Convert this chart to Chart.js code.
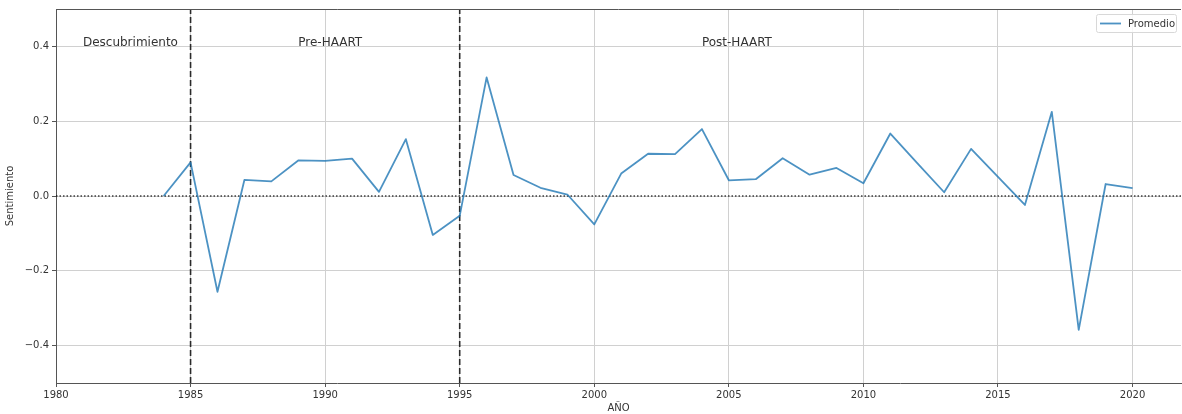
<!DOCTYPE html>
<html>
<head>
<meta charset="utf-8">
<script src="https://cdn.jsdelivr.net/npm/chart.js@4/dist/chart.umd.min.js"></script>
<style>
  html, body { margin: 0; padding: 0; background: #fff; }
  #wrap { width: 1182px; height: 414px; position: relative; }
</style>
</head>
<body>
<div id="wrap"><canvas id="chart"></canvas></div>
<script>
"use strict";

// Data
const years = [1984, 1985, 1986, 1987, 1988, 1989, 1990, 1991, 1992, 1993, 1994, 1995,
    1996, 1997, 1998, 1999, 2000, 2001, 2002, 2003, 2004, 2005, 2006, 2007, 2008,
    2009, 2010, 2011, 2012, 2013, 2014, 2015, 2016, 2017, 2018, 2019, 2020];
const promedio = [0.0, 0.09, -0.256, 0.043, 0.039, 0.095, 0.094, 0.100, 0.011, 0.152, -0.104, -0.053,
    0.317, 0.056, 0.022, 0.004, -0.076, 0.060, 0.113, 0.112, 0.179, 0.042, 0.045, 0.101, 0.057,
    0.075, 0.034, 0.167, 0.088, 0.010, 0.126, 0.051, -0.024, 0.225, -0.358, 0.032, 0.021];
const xTicks = [1980, 1985, 1990, 1995, 2000, 2005, 2010, 2015, 2020];
const yTicks = [-0.4, -0.2, 0.0, 0.2, 0.4];
const periodBreaks = [1985, 1995];
const periodLabels = ['Descubrimiento', 'Pre-HAART', 'Post-HAART'];
const periodLabelX = [1981, 1989, 2004];
const periodLabelY = 0.4;
const xRange = [1980, 2021.8];
const yRange = [-0.5, 0.5];

const FONT = 'DejaVu Sans';
const TEXT = '#333333';
const LINE = 'rgba(31, 119, 180, 0.8)';

document.addEventListener('DOMContentLoaded', () => {
    const ctx = document.getElementById('chart').getContext('2d');

    const datasets = [{
        label: 'Promedio',
        data: years.map((y, i) => ({ x: y, y: promedio[i] })),
        borderColor: LINE,
        borderWidth: 1.8,
        borderJoinStyle: 'round',
        pointRadius: 0,
        tension: 0,
        order: 0
    }];

    // vertical dashed period breaks
    periodBreaks.forEach(b => {
        datasets.push({
            label: '_break',
            data: [{ x: b, y: yRange[0] }, { x: b, y: yRange[1] }],
            borderColor: 'rgba(0, 0, 0, 0.8)',
            borderWidth: 1.6,
            borderDash: [6, 3],
            pointRadius: 0,
            order: 1
        });
    });

    // horizontal dotted zero line
    datasets.push({
        label: '_zero',
        data: [{ x: xRange[0], y: 0 }, { x: xRange[1], y: 0 }],
        borderColor: 'rgba(0, 0, 0, 0.75)',
        borderWidth: 1.5,
        borderDash: [1.5, 2],
        pointRadius: 0,
        order: 1
    });

    // Extra drawing: top spine, period labels, legend
    const extras = {
        id: 'extras',
        afterDatasetsDraw(chart) {
            const c = chart.ctx;
            const a = chart.chartArea;
            const xs = chart.scales.x;
            const ys = chart.scales.y;
            c.save();
            c.strokeStyle = '#555';
            c.lineWidth = 1;
            c.beginPath();
            c.moveTo(a.left, a.top + 0.5);
            c.lineTo(a.right, a.top + 0.5);
            c.stroke();

            c.fillStyle = TEXT;
            c.font = '12px "' + FONT + '"';
            c.textAlign = 'left';
            c.textBaseline = 'alphabetic';
            periodLabels.forEach((t, i) => {
                c.fillText(t, xs.getPixelForValue(periodLabelX[i]), ys.getPixelForValue(periodLabelY));
            });

            // legend
            const lx = a.right - 85, ly = a.top + 5, lw = 80, lh = 18;
            c.fillStyle = 'rgba(255,255,255,0.85)';
            c.strokeStyle = '#d8d8d8';
            c.lineWidth = 1;
            c.beginPath();
            c.roundRect(lx + 0.5, ly + 0.5, lw, lh, 2);
            c.fill();
            c.stroke();
            c.strokeStyle = LINE;
            c.lineWidth = 1.8;
            c.beginPath();
            c.moveTo(lx + 4, ly + 9.5);
            c.lineTo(lx + 25, ly + 9.5);
            c.stroke();
            c.fillStyle = TEXT;
            c.font = '10px "' + FONT + '"';
            c.textBaseline = 'middle';
            c.fillText('Promedio', lx + 32, ly + 10);
            c.restore();
        }
    };

    new Chart(ctx, {
        type: 'line',
        data: { datasets },
        options: {
            responsive: true,
            maintainAspectRatio: false,
            animation: false,
            layout: { padding: { left: 0, top: 9, right: 1, bottom: 0 } },
            plugins: {
                legend: { display: false },
                tooltip: { enabled: false }
            },
            scales: {
                x: {
                    type: 'linear',
                    min: xRange[0],
                    max: xRange[1],
                    afterBuildTicks: s => { s.ticks = xTicks.map(v => ({ value: v })); },
                    afterFit: s => { s.height = 31; },
                    grid: { color: '#d0d0d0', lineWidth: 1, tickLength: 4, tickColor: '#555' },
                    border: { color: '#555', width: 1 },
                    ticks: {
                        color: TEXT,
                        font: { family: FONT, size: 10 },
                        padding: 2,
                        maxRotation: 0,
                        callback: v => String(v)
                    },
                    title: {
                        display: true,
                        text: 'AÑO',
                        color: TEXT,
                        font: { family: FONT, size: 10 },
                        padding: { top: 0, bottom: 0 }
                    }
                },
                y: {
                    min: yRange[0],
                    max: yRange[1],
                    afterBuildTicks: s => { s.ticks = yTicks.map(v => ({ value: v })); },
                    afterFit: s => { s.width = 56; },
                    grid: { color: '#d0d0d0', lineWidth: 1, tickLength: 4, tickColor: '#555' },
                    border: { color: '#555', width: 1 },
                    ticks: {
                        color: TEXT,
                        font: { family: FONT, size: 10 },
                        padding: 3,
                        callback: v => (v < 0 ? '\u2212' + Math.abs(v).toFixed(1) : v.toFixed(1))
                    },
                    title: {
                        display: true,
                        text: 'Sentimiento',
                        color: TEXT,
                        font: { family: FONT, size: 10 },
                        padding: { top: 4, bottom: 0 }
                    }
                }
            }
        },
        plugins: [extras]
    });
});
</script>
</body>
</html>
